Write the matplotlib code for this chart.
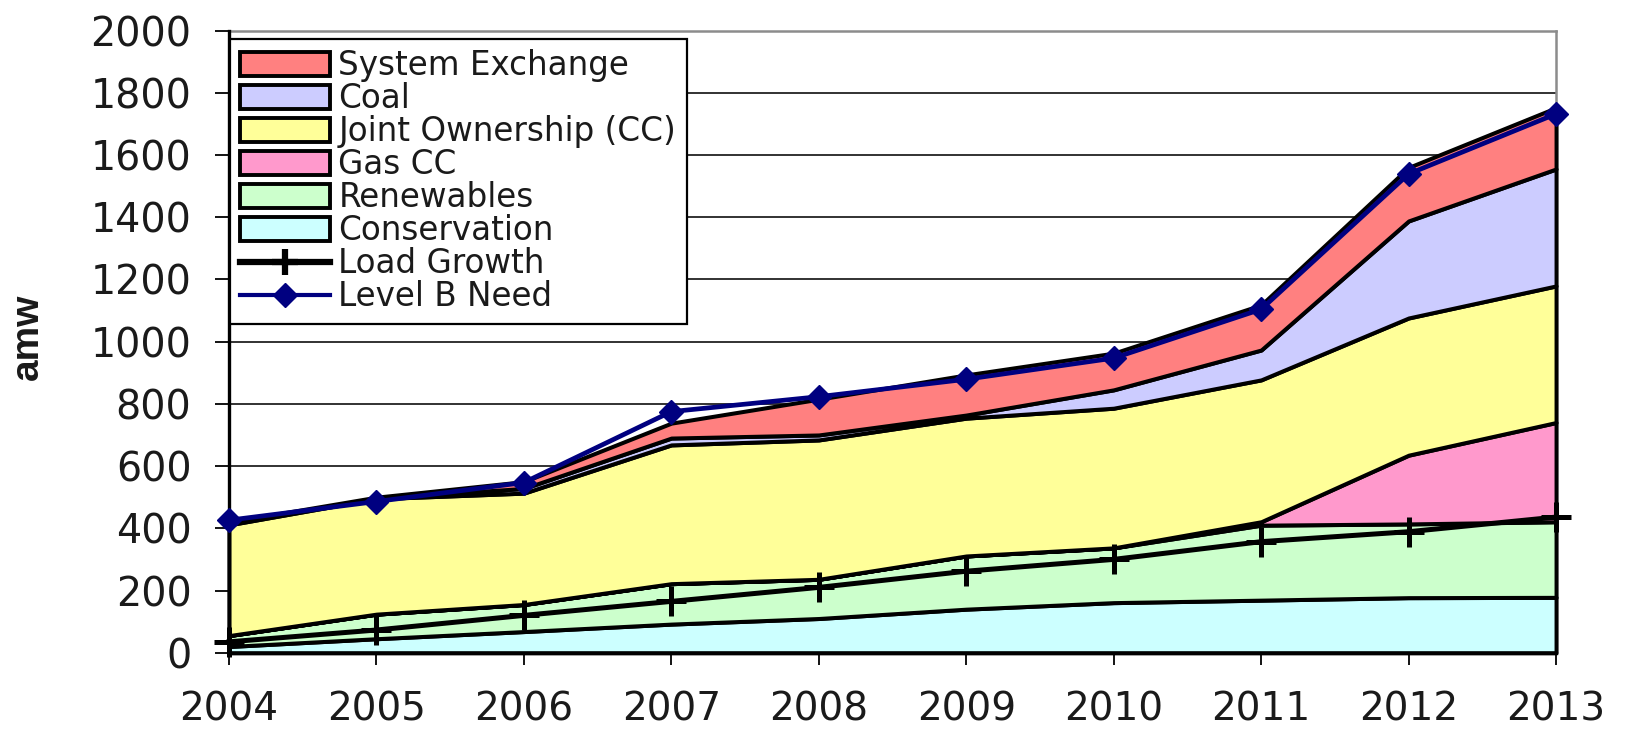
import numpy as np
import matplotlib.pyplot as plt
from matplotlib.patches import Patch
from matplotlib.lines import Line2D

years = [2004, 2005, 2006, 2007, 2008, 2009, 2010, 2011, 2012, 2013]

# layer thicknesses, bottom to top (amw)
conservation = [20, 45, 68, 92, 110, 140, 161, 169, 177, 178]
renewables = [35, 79, 87, 130, 126, 171, 176, 241, 237, 243]
gas_cc = [0, 0, 0, 0, 0, 0, 0, 11, 221, 319]
joint_ownership = [356, 371, 358, 446, 448, 443, 449, 456, 441, 439]
coal = [4, 2, 15, 22, 16, 10, 59, 96, 312, 376]
system_exchange = [5, 3, 22, 48, 115, 129, 118, 145, 172, 197]

load_growth = [35, 73, 120, 165, 210, 262, 300, 357, 389, 436]
level_b_need = [426, 486, 547, 775, 823, 879, 947, 1104, 1539, 1732]

layer_names = ['Conservation', 'Renewables', 'Gas CC', 'Joint Ownership (CC)',
               'Coal', 'System Exchange']
layer_colors = ['#CCFFFF', '#CCFFCC', '#FF99CC', '#FFFF99', '#CCCCFF', '#FF8080']
navy = '#000080'
txt = '#1a1a1a'

fig = plt.figure(figsize=(16.27, 7.32), dpi=100)
ax = fig.add_axes([0.1407, 0.1083, 0.8157, 0.8500])

ax.stackplot(years, conservation, renewables, gas_cc, joint_ownership, coal,
             system_exchange, colors=layer_colors, edgecolor='black',
             linewidth=2.9, clip_on=False, zorder=1)

ax.plot(years, load_growth, color='black', lw=3.6, marker='+', ms=22, mew=3.6,
        clip_on=False, zorder=4)
ax.plot(years, level_b_need, color=navy, lw=3.4, marker='D', ms=12, mew=1,
        mec=navy, mfc=navy, clip_on=False, zorder=5)

ax.set_xlim(2004, 2013)
ax.set_ylim(0, 2000)
ax.set_xticks(years)
ax.set_yticks(np.arange(0, 2001, 200))
ax.set_axisbelow(True)
ax.grid(axis='y', color='#222222', lw=1.3)
ax.grid(axis='x', visible=False)

for s in ['left', 'bottom']:
    ax.spines[s].set_color('black')
    ax.spines[s].set_linewidth(2.4)
for s in ['top', 'right']:
    ax.spines[s].set_color('#8c8c8c')
    ax.spines[s].set_linewidth(1.8)
    ax.spines[s].set_zorder(0.8)

ax.tick_params(axis='y', length=10, width=1.3, pad=17, labelsize=28.5,
               labelcolor=txt, labelfontfamily='DejaVu Sans')
ax.tick_params(axis='x', length=8.5, width=1.3, pad=19, labelsize=28,
               labelcolor=txt, labelfontfamily='DejaVu Sans')

fig.text(28 / 1627, 1 - 337 / 732, 'amw', rotation=90, ha='center', va='center',
         fontsize=28, fontweight='bold', family='Liberation Sans', color=txt)

handles = [Patch(facecolor=c, edgecolor='black', linewidth=2.8)
           for c in layer_colors][::-1]
labels = layer_names[::-1]
handles += [Line2D([], [], color='black', lw=4.5, marker='+', ms=19, mew=4.5),
            Line2D([], [], color=navy, lw=3, marker='D', ms=12, mec=navy, mfc=navy)]
labels += ['Load Growth', 'Level B Need']

leg = ax.legend(handles, labels, loc='upper left',
                bbox_to_anchor=(230 / 1627, 1 - 39 / 732),
                bbox_transform=fig.transFigure, borderaxespad=0,
                prop={'family': 'DejaVu Sans', 'size': 23.5},
                handlelength=2.75, handleheight=0.75, handletextpad=0.25,
                labelspacing=0.0, borderpad=0.32, fancybox=False,
                framealpha=1, edgecolor='black')
leg.get_frame().set_linewidth(1.6)
leg.set_zorder(6)
for t in leg.get_texts():
    t.set_color(txt)

fig.savefig('out.png', dpi=100)
